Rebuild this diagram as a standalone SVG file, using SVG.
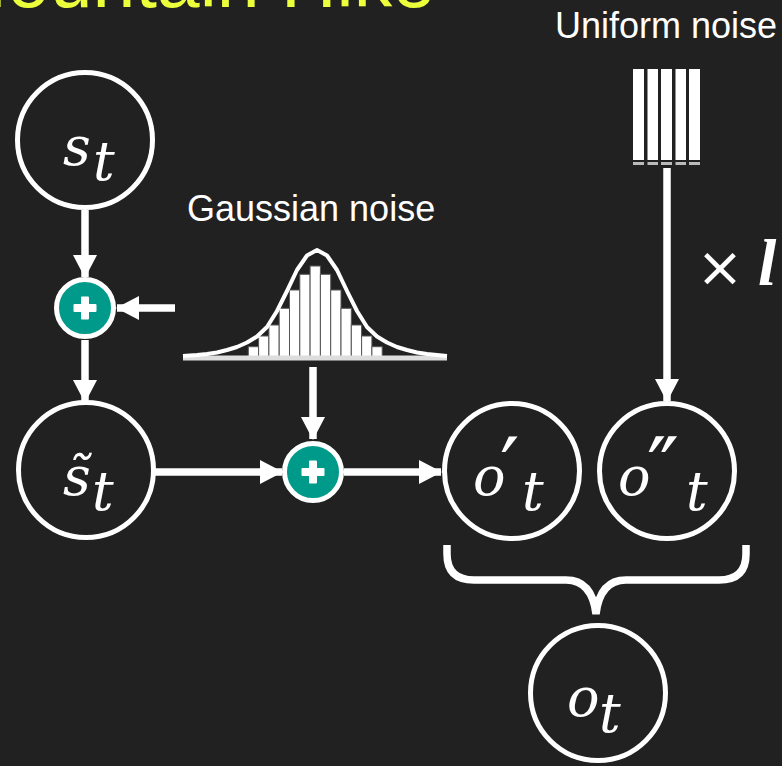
<svg xmlns="http://www.w3.org/2000/svg" width="782" height="766" viewBox="0 0 782 766">
  <style>
    .node { fill: none; stroke: #ffffff; stroke-width: 5; }
    .sum { fill: #009A8A; stroke: #ffffff; stroke-width: 5; }
    .plus { fill: #ffffff; }
    .edge { stroke: #ffffff; stroke-width: 7.5; fill: none; }
    .label { font-family: "Liberation Sans", Arial, sans-serif; font-size: 36px; fill: #ffffff; }
    .math { font-family: "DejaVu Serif", "Liberation Serif", serif; font-style: italic; fill: #ffffff; font-size: 54px; }
    .prime { font-family: "DejaVu Serif", "Liberation Serif", serif; fill: #ffffff; font-size: 86px; }
    .bar { fill: #ffffff; stroke: #555555; stroke-width: 1; }
  </style>
  <defs>
    <marker id="head" markerUnits="userSpaceOnUse" markerWidth="23" markerHeight="24" refX="22" refY="12" orient="auto">
      <path d="M0,0 L23,12 L0,24 Z" fill="#ffffff"/>
    </marker>
  </defs>

  <rect width="782" height="766" fill="#212121"/>

  <!-- title -->
  <text x="435" y="7" text-anchor="end" font-family="Liberation Sans, Arial, sans-serif" font-size="77" fill="#EBFF3B">Mountain Hike</text>

  <!-- connectors -->
  <g id="connectors">
    <line class="edge" x1="85" y1="210" x2="85" y2="277" marker-end="url(#head)"/>
    <line class="edge" x1="175" y1="308" x2="117" y2="308" marker-end="url(#head)"/>
    <line class="edge" x1="85" y1="340" x2="85" y2="402" marker-end="url(#head)"/>
    <line class="edge" x1="313" y1="367" x2="313" y2="439" marker-end="url(#head)"/>
    <line class="edge" x1="155" y1="472" x2="282" y2="472" marker-end="url(#head)"/>
    <line class="edge" x1="344" y1="472" x2="441" y2="472" marker-end="url(#head)"/>
    <line class="edge" x1="667" y1="168" x2="667" y2="401" marker-end="url(#head)"/>
    <!-- brace grouping o'_t and o''_t -->
    <path class="edge" stroke-width="6" d="M447,545 V554 Q447,580 474,580 H566 Q592,580 596,614 Q600,580 626,580 H719 Q746,580 746,554 V545"/>
  </g>

  <!-- state node -->
  <g id="s_t">
    <circle class="node" cx="85" cy="140" r="67.5"/>
    <text class="math" x="63" y="165">s</text>
    <text class="math" x="93" y="180">t</text>
  </g>

  <!-- process noise sum -->
  <g id="sum1">
    <circle class="sum" cx="85" cy="308" r="28.5"/>
    <rect class="plus" x="73.5" y="304" width="23" height="8" rx="1"/>
    <rect class="plus" x="81" y="296.5" width="8" height="23" rx="1"/>
  </g>

  <!-- perturbed state -->
  <g id="s_tilde_t">
    <circle class="node" cx="86" cy="470" r="67.5"/>
    <text class="math" x="63" y="495">s̃</text>
    <text class="math" x="92" y="510">t</text>
  </g>

  <!-- observation noise sum -->
  <g id="sum2">
    <circle class="sum" cx="313" cy="472" r="28.5"/>
    <rect class="plus" x="301.5" y="468" width="23" height="8" rx="1"/>
    <rect class="plus" x="309" y="460.5" width="8" height="23" rx="1"/>
  </g>

  <!-- gaussian noise source -->
  <g id="gaussian">
    <text class="label" x="187" y="221">Gaussian noise</text>
    <rect class="bar" x="248.3" y="346.7" width="10.3" height="10.3"/>
    <rect class="bar" x="258.6" y="336" width="10.3" height="21"/>
    <rect class="bar" x="268.9" y="325" width="10.3" height="32"/>
    <rect class="bar" x="279.2" y="308.3" width="10.3" height="48.7"/>
    <rect class="bar" x="289.5" y="290" width="10.3" height="67"/>
    <rect class="bar" x="299.8" y="274.3" width="10.3" height="82.7"/>
    <rect class="bar" x="310.1" y="266" width="10.3" height="91"/>
    <rect class="bar" x="320.4" y="274.3" width="10.3" height="82.7"/>
    <rect class="bar" x="330.7" y="290" width="10.3" height="67"/>
    <rect class="bar" x="341" y="308.3" width="10.3" height="48.7"/>
    <rect class="bar" x="351.3" y="325" width="10.3" height="32"/>
    <rect class="bar" x="361.6" y="336" width="10.3" height="21"/>
    <rect class="bar" x="371.9" y="346.7" width="10.3" height="10.3"/>
    <rect x="183" y="355.5" width="264" height="5" fill="#dddddd"/>
    <polyline fill="none" stroke="#ffffff" stroke-width="4" stroke-linejoin="round"
      points="183,356 197,355 207,354 217,352.5 227,350 237,347 247,342.5 257,336.5 267,327 277,311 287,291 297,270 307,255.5 317,250 327,255.5 337,270 347,291 357,311 367,327 377,336.5 387,342.5 397,347 407,350 417,352.5 427,354 437,355 447,356"/>
  </g>

  <!-- uniform noise source -->
  <g id="uniform">
    <text class="label" x="555" y="38">Uniform noise</text>
    <rect x="633" y="69" width="11" height="91" fill="#ffffff"/>
    <rect x="647.5" y="69" width="10.5" height="91" fill="#ffffff"/>
    <rect x="661" y="69" width="11" height="91" fill="#ffffff"/>
    <rect x="675.5" y="69" width="10.5" height="91" fill="#ffffff"/>
    <rect x="689" y="69" width="11" height="91" fill="#ffffff"/>
    <rect x="633" y="162" width="11" height="3" fill="#bbbbbb"/>
    <rect x="647.5" y="162" width="10.5" height="3" fill="#bbbbbb"/>
    <rect x="661" y="162" width="11" height="3" fill="#bbbbbb"/>
    <rect x="675.5" y="162" width="10.5" height="3" fill="#bbbbbb"/>
    <rect x="689" y="162" width="11" height="3" fill="#bbbbbb"/>
    <text x="720" y="286" text-anchor="middle" font-family="DejaVu Sans, sans-serif" font-size="56" fill="#ffffff">×</text>
    <text x="758" y="285" font-family="Liberation Serif, serif" font-style="italic" font-weight="bold" font-size="66" fill="#ffffff">l</text>
  </g>

  <!-- observation parts -->
  <g id="o_prime_t">
    <circle class="node" cx="512" cy="471" r="67.5"/>
    <text class="math" x="473" y="495">o</text>
    <text class="prime" x="500" y="499">′</text>
    <text class="math" x="522" y="510">t</text>
  </g>

  <g id="o_dprime_t">
    <circle class="node" cx="667" cy="471" r="67.5"/>
    <text class="math" x="618" y="495">o</text>
    <text class="prime" x="647" y="499">″</text>
    <text class="math" x="686" y="510">t</text>
  </g>

  <!-- combined observation -->
  <g id="o_t">
    <circle class="node" cx="598" cy="693" r="67.5"/>
    <text class="math" x="567" y="716">o</text>
    <text class="math" x="599" y="732">t</text>
  </g>
</svg>
